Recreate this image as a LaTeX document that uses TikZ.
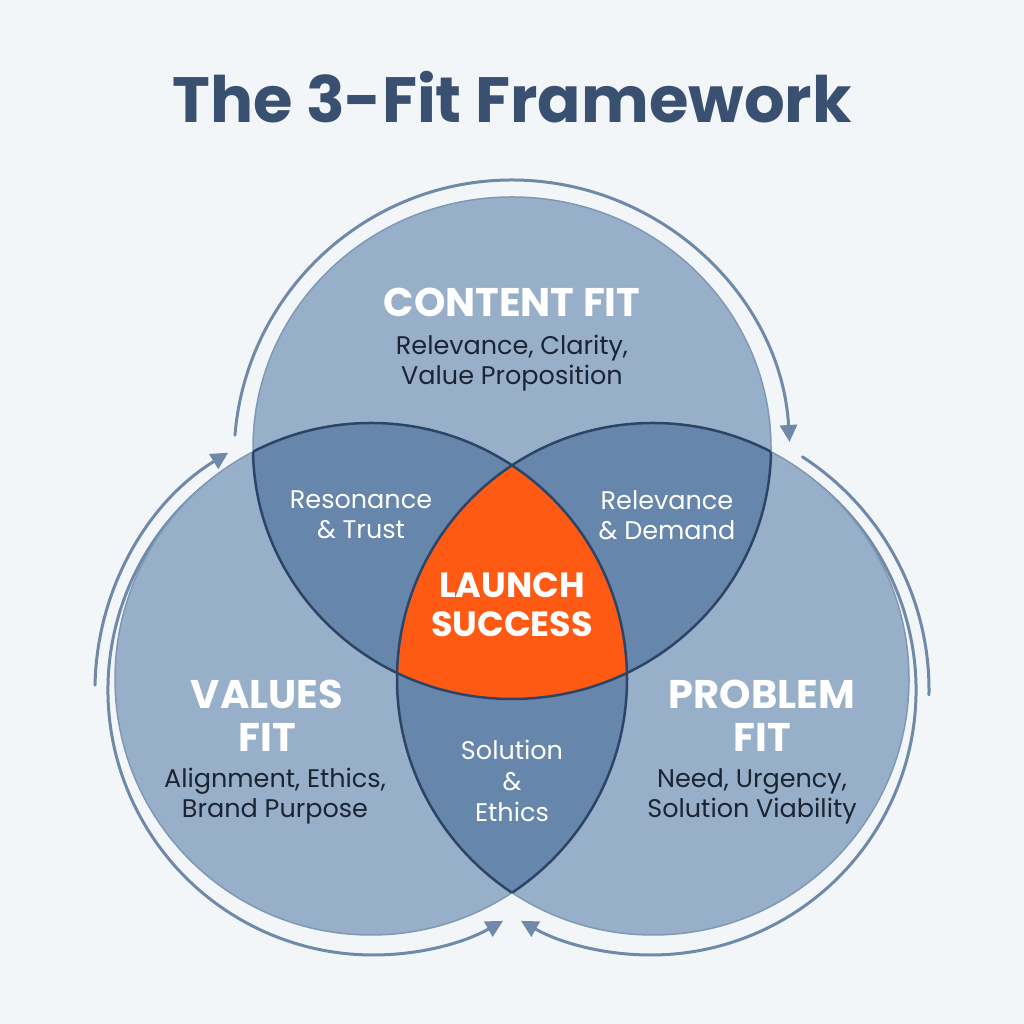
\documentclass[tikz,border=0pt]{standalone}
\usepackage{fontspec}
\setmainfont{Poppins}
\usetikzlibrary{arrows.meta}
\definecolor{bg}{HTML}{F2F6F9}
\definecolor{singlec}{HTML}{98AFCA}
\definecolor{dblc}{HTML}{6786AB}
\definecolor{corec}{HTML}{FF5A14}
\definecolor{darkline}{HTML}{2C4566}
\definecolor{edgeline}{HTML}{7F98B5}
\definecolor{arrowc}{HTML}{6F8AA8}
\definecolor{titlec}{HTML}{3A5070}
\definecolor{bodyc}{HTML}{1B2433}
\tikzset{
  arcline/.style={draw=arrowc, line width=3pt, line cap=round},
  tipped/.style={arcline, -{Triangle[length=17pt,width=17pt]}},
  head/.style={text=white, font=\fontsize{40}{43}\selectfont\bfseries, align=center},
  sub/.style={text=bodyc, font=\fontsize{25.5}{30}\selectfont, align=center},
  lens/.style={text=white, font=\fontsize{25.5}{30}\selectfont, align=center},
  corelabel/.style={text=white, font=\fontsize{35}{39}\selectfont\bfseries, align=center},
}
\begin{document}
\begin{tikzpicture}[x=1pt,y=1pt]
\useasboundingbox (0,0) rectangle (1024,1024);
\fill[bg] (0,0) rectangle (1024,1024);

% title
\node[text=titlec, font=\fontsize{64}{70}\selectfont\bfseries] (title) at (512,927) {The 3-Fit Framework};

% outer arrows (drawn below the circles)
\draw[tipped] (512,566) ++(175.3:278) arc[start angle=175.3, end angle=3.3, radius=278];
\draw[tipped] (373,334) ++(179:278) arc[start angle=179, end angle=121.4, radius=278];
\draw[arcline] (651,334) ++(57:278) arc[start angle=57, end angle=-1, radius=278];
\draw[tipped] (373,334) ++(118:265) arc[start angle=118, end angle=299.4, radius=265];
\draw[tipped] (651,334) ++(62:265) arc[start angle=62, end angle=-119.4, radius=265];

% circle fills
\fill[singlec] (512,576) ellipse [x radius=259, y radius=251];
\fill[singlec] (371,345) circle (256);
\fill[singlec] (653,345) circle (256);

% pairwise overlaps
\begin{scope}
  \clip (512,576) ellipse [x radius=259, y radius=251];
  \fill[dblc] (371,345) circle (256);
  \fill[dblc] (653,345) circle (256);
\end{scope}
\begin{scope}
  \clip (371,345) circle (256);
  \fill[dblc] (653,345) circle (256);
\end{scope}
% triple overlap
\begin{scope}
  \clip (512,576) ellipse [x radius=259, y radius=251];
  \clip (371,345) circle (256);
  \fill[corec] (653,345) circle (256);
\end{scope}

% outer edges
\draw[edgeline, line width=1.5pt] (512,576) ellipse [x radius=259, y radius=251];
\draw[edgeline, line width=1.5pt] (371,345) circle (256);
\draw[edgeline, line width=1.5pt] (653,345) circle (256);

% inner dark boundaries
\begin{scope}
  \clip (371,345) circle (256) (653,345) circle (256);
  \draw[darkline, line width=2.5pt] (512,576) ellipse [x radius=259, y radius=251];
\end{scope}
\begin{scope}
  \clip (512,576) ellipse [x radius=259, y radius=251] (653,345) circle (256);
  \draw[darkline, line width=2.5pt] (371,345) circle (256);
\end{scope}
\begin{scope}
  \clip (512,576) ellipse [x radius=259, y radius=251] (371,345) circle (256);
  \draw[darkline, line width=2.5pt] (653,345) circle (256);
\end{scope}

% labels
\node[head] (content) at (512,722) {CONTENT FIT};
\node[sub] (contentsub) at (512,661) {Relevance, Clarity,\\Value Proposition};
\node[lens] (resonance) at (361,509) {Resonance\\\& Trust};
\node[lens] (relevance) at (667,509) {Relevance\\\& Demand};
\node[corelabel] (launch) at (512,419) {LAUNCH\\SUCCESS};
\node[head] (values) at (267,308) {VALUES\\FIT};
\node[sub] (valuessub) at (275,228) {Alignment, Ethics,\\Brand Purpose};
\node[head] (problem) at (762,308) {PROBLEM\\FIT};
\node[sub] (problemsub) at (752,228) {Need, Urgency,\\Solution Viability};
\node[lens, font=\fontsize{25.5}{31}\selectfont] (solution) at (512,243) {Solution\\\&\\Ethics};
\end{tikzpicture}
\end{document}
